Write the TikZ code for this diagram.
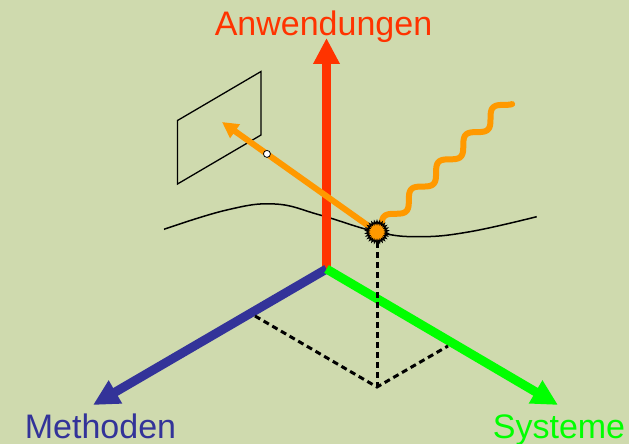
\documentclass[tikz,border=0pt]{standalone}
\usepackage{fontspec}
\newfontfamily\labfont{Liberation Sans}
\usetikzlibrary{arrows.meta,shapes.geometric,calc}
\definecolor{bgc}{RGB}{207,218,174}
\definecolor{axred}{RGB}{255,51,0}
\definecolor{axblue}{RGB}{51,51,153}
\definecolor{axgreen}{RGB}{0,255,0}
\definecolor{sunorange}{RGB}{255,153,0}
\tikzset{
  axis/.style={line width=9pt, -{Triangle[length=26pt,width=25pt]}},
  dashline/.style={black, line width=3pt, dash pattern=on 6pt off 4pt},
  axlabel/.style={font=\labfont\fontsize{34}{40}\selectfont, anchor=base, inner sep=0pt},
  sun/.style={star, star points=26, star point ratio=1.35, minimum size=22pt, inner sep=0pt, fill=sunorange, draw=black, line width=1.2pt},
  ray/.style={sunorange, line width=6pt, line cap=round},
}
\begin{document}
\begin{tikzpicture}[x=1pt,y=-1pt]
\useasboundingbox (0,0) rectangle (629,444);
\fill[bgc] (0,0) rectangle (629,444);

% coordinates
\coordinate (O) at (326.5,269);
\coordinate (tipA) at (326.5,38);
\coordinate (tipM) at (93,405);
\coordinate (tipS) at (558,405);
\coordinate (P) at (377,232);
\coordinate (D) at (377,387);
\coordinate (DM) at (255,316);
\coordinate (DS) at (448,346);

% plane
\coordinate (q1) at (177.5,120.5);
\coordinate (q2) at (261,71.5);
\coordinate (q3) at (261,135);
\coordinate (q4) at (177.5,184);
\draw[black, line width=1.3pt] (q1) -- (q2) -- (q3) -- (q4) -- cycle;

% surface curve
\draw[black, line width=1.5pt] plot[smooth, tension=0.7] coordinates {(164,229.3) (226.7,210) (275,204) (320,215) (377,232) (420,236.7) (470,231.7) (536.7,216.7)};

% axes
\draw[axis, axred] (O) -- (tipA);
\draw[axis, axblue] (O) -- (tipM);
\draw[axis, axgreen] (O) -- (tipS);

% dashed projection
\draw[dashline] (DM) -- (D) -- (DS);
\draw[dashline] (P) -- (D);

% wave
\draw[ray] plot[domain=0:186, samples=200, smooth] ({377 + \x*0.7071 + 6*cos((\x-35.4)/38.5*360)*0.7071}, {232 - \x*0.7071 + 6*cos((\x-35.4)/38.5*360)*0.7071});

% reflected ray
\coordinate (R) at (222,122);
\draw[sunorange, line width=6pt, -{Triangle[length=16pt,width=16pt]}] (P) -- (R) node[pos=0.71, circle, fill=white, draw=black, line width=0.8pt, minimum size=7pt, inner sep=0pt] (obs) {};

% sun
\node[sun] (sunnode) at (P) {};

% labels
\node[axlabel, text=axred] (lA) at (323.5,36) {Anwendungen};
\node[axlabel, text=axblue] (lM) at (100.5,438) {Methoden};
\node[axlabel, text=axgreen] (lS) at (559,438) {Systeme};
\end{tikzpicture}
\end{document}
